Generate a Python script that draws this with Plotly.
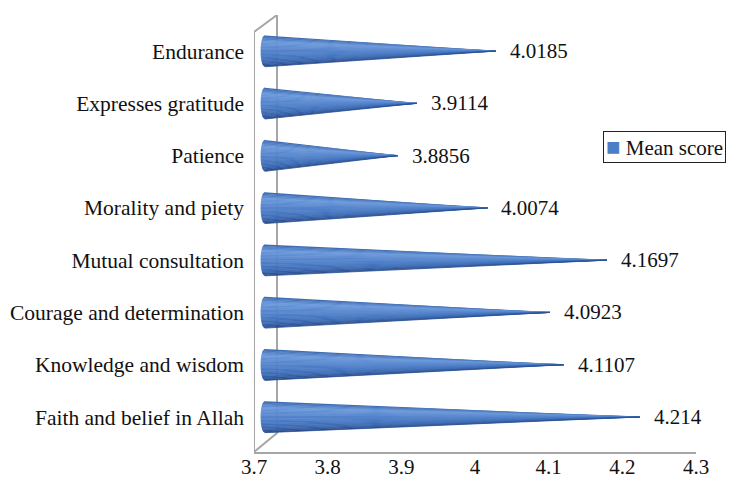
import numpy as np
import plotly.graph_objects as go

# ---- data -------------------------------------------------------------
categories = [
    "Faith and belief in Allah",
    "Knowledge and wisdom",
    "Courage and determination",
    "Mutual consultation",
    "Morality and piety",
    "Patience",
    "Expresses gratitude",
    "Endurance",
]
mean_scores = [4.214, 4.1107, 4.0923, 4.1697, 4.0074, 3.8856, 3.9114, 4.0185]
score_labels = ["4.214", "4.1107", "4.0923", "4.1697", "4.0074", "3.8856", "3.9114", "4.0185"]
x_ticks = [3.7, 3.8, 3.9, 4.0, 4.1, 4.2, 4.3]
x_tick_labels = ["3.7", "3.8", "3.9", "4", "4.1", "4.2", "4.3"]
series_name = "Mean score"

# ---- geometry / style -------------------------------------------------
X_MIN, X_MAX = 3.7, 4.3
Y_MIN, Y_MAX = -0.67, 7.69
W, H = 732, 478
M_L, M_R, M_T, M_B = 254, 36, 15, 26
px_x = (X_MAX - X_MIN) / (W - M_L - M_R)      # data units per pixel (x)
px_y = (Y_MAX - Y_MIN) / (H - M_T - M_B)      # data units per pixel (y)

DEPTH = 7 * px_x          # cones sit slightly behind the front plane
CAP_RX = 4 * px_x         # horizontal radius of the cone base ellipse
CONE_R = 0.3              # half height of each cone base (category units)
WALL_DX = 23 * px_x       # 3-D wall depth
WALL_DY_TOP = 17 * px_y
WALL_DY_BOT = 19 * px_y

FONT = "Liberation Serif"
TXT = "#111111"
GRAY = "#a6a6a6"
SERIES_COLOR = "#4a7fc6"

# cylindrical shading: s = +1 top edge, s = -1 bottom edge
shade_stops = [
    (1.0, (58, 104, 176)),
    (0.6, (106, 152, 218)),
    (0.2, (90, 137, 208)),
    (-0.3, (72, 122, 196)),
    (-0.7, (58, 104, 178)),
    (-1.0, (40, 76, 138)),
]


def shade(s):
    for (s0, c0), (s1, c1) in zip(shade_stops[:-1], shade_stops[1:]):
        if s1 <= s <= s0:
            t = (s0 - s) / (s0 - s1)
            r, g, b = (round(a + (b_ - a) * t) for a, b_ in zip(c0, c1))
            return f"rgb({r},{g},{b})"
    return "rgb(74,127,198)"


fig = go.Figure()

# 3-D side wall (front edge at the axis minimum, back edge offset)
wall_x = [X_MIN, X_MIN, X_MIN + WALL_DX, X_MIN + WALL_DX, X_MIN]
wall_y = [Y_MIN, Y_MAX - WALL_DY_TOP, Y_MAX, Y_MIN + WALL_DY_BOT, Y_MIN]
fig.add_trace(go.Scatter(
    x=wall_x, y=wall_y, mode="lines",
    line=dict(color=GRAY, width=2),
    hoverinfo="skip", showlegend=False, cliponaxis=False,
))

# cones, drawn as shaded stripes running from the base ellipse to the tip
edges = np.linspace(1.0, -1.0, 23)
for sa, sb in zip(edges[:-1], edges[1:]):
    xs, ys = [], []
    for i, v in enumerate(mean_scores):
        base = X_MIN + DEPTH + CAP_RX
        tip = v + DEPTH
        for s in np.linspace(sa, sb, 4):
            xs.append(base - CAP_RX * np.sqrt(max(0.0, 1 - s * s)))
            ys.append(i + CONE_R * s)
        xs += [tip, None]
        ys += [i, None]
    col = shade((sa + sb) / 2)
    fig.add_trace(go.Scatter(
        x=xs, y=ys, mode="lines", fill="toself",
        fillcolor=col, line=dict(color=col, width=0.8),
        hoverinfo="skip", showlegend=False,
    ))

# value labels just past each cone tip
for i, (v, lab) in enumerate(zip(mean_scores, score_labels)):
    fig.add_annotation(
        x=v + DEPTH, y=i, text=lab, showarrow=False,
        xanchor="left", yanchor="middle", xshift=12,
        font=dict(family=FONT, size=21, color=TXT),
    )

# series key, boxed, to the right of the cones
fig.add_annotation(
    xref="paper", yref="paper",
    x=(603 - M_L) / (W - M_L - M_R), y=(H - M_B - 147) / (H - M_T - M_B),
    xanchor="left", yanchor="middle", showarrow=False,
    text=(f'<span style="color:{SERIES_COLOR};font-size:24px">■</span>'
          f' {series_name}'),
    font=dict(family=FONT, size=21, color=TXT),
    bordercolor="#222222", borderwidth=1, borderpad=2, bgcolor="white",
)

fig.update_layout(
    width=W, height=H,
    margin=dict(l=M_L, r=M_R, t=M_T, b=M_B, autoexpand=False),
    paper_bgcolor="white", plot_bgcolor="white",
    font=dict(family=FONT, size=21, color=TXT),
    showlegend=False,
    xaxis=dict(
        range=[X_MIN, X_MAX], tickvals=x_ticks, ticktext=x_tick_labels,
        showgrid=False, zeroline=False, ticks="",
        showline=True, linecolor=GRAY, linewidth=2,
        automargin=False, ticklabelstandoff=-5,
        tickfont=dict(family=FONT, size=21, color=TXT),
    ),
    yaxis=dict(
        range=[Y_MIN, Y_MAX], tickvals=list(range(len(categories))),
        ticktext=categories, showgrid=False, zeroline=False, ticks="",
        showline=False, automargin=False, ticklabelstandoff=9,
        tickfont=dict(family=FONT, size=21.5, color=TXT),
    ),
)

fig.write_html("out.html")
